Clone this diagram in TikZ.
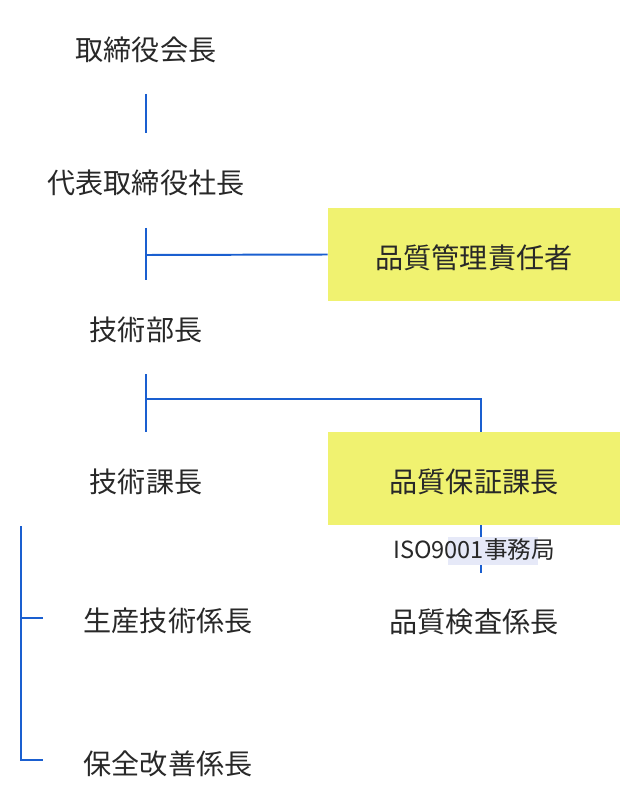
\documentclass[tikz,border=0pt]{standalone}
\usepackage{fontspec}
\setmainfont{Noto Sans CJK JP}
\usetikzlibrary{calc}
\definecolor{LineBlue}{RGB}{26,95,208}
\definecolor{BoxYellow}{RGB}{240,242,112}
\definecolor{MarkLavender}{RGB}{230,233,248}
\definecolor{TextGray}{RGB}{40,40,40}
\newcommand{\boxtext}[1]{\raisebox{-0.8mm}[\height][\depth]{#1}}

\begin{document}
\begin{tikzpicture}[x=0.025cm, y=-0.025cm,
    post/.style={text=TextGray, inner sep=0pt, font=\fontsize{20pt}{24pt}\selectfont},
    qbox/.style={post, fill=BoxYellow, minimum width=7.3cm, minimum height=2.325cm},
    note/.style={text=TextGray, inner sep=0pt, font=\fontsize{16.8pt}{20pt}\selectfont},
    link/.style={LineBlue, line width=1.4pt}]
    \useasboundingbox (0,0) rectangle (620,807);

    % Posts
    \node [post] (chair) at (146,50) {取締役会長};
    \node [post] (pres) at (146,183) {代表取締役社長};
    \node [qbox] (qmr) at (474,254.5) {\boxtext{品質管理責任者}};
    \node [post] (eng) at (146,330) {技術部長};
    \node [post] (sect) at (146,482) {技術課長};
    \node [qbox] (qa) at (474,478.5) {\boxtext{品質保証課長}};
    \node [post] (insp) at (474,622) {品質検査係長};
    \node [post] (prod) at (168,621) {生産技術係長};
    \node [post] (maint) at (168,764) {保全改善係長};

    % Connectors
    \draw [link] ($(chair)+(0,44)$) -- ($(pres)+(0,-50)$);
    \draw [link] ($(pres)+(0,45)$) -- ($(pres)+(0,97)$);
    \draw [link] ($(pres)+(0,72)$) -- (qmr.west);
    \draw [link] ($(eng)+(0,44)$) -- ($(eng)+(0,102)$);
    \draw [link] ($(eng)+(0,69)$) -| ($(qa.north)+(7,0)$);
    \draw [link] ($(sect)+(-125,44)$) |- ($(maint.west)+(-40,-4)$);
    \draw [link] ($(prod.west)+(-63,-3)$) -- ($(prod.west)+(-40,-3)$);
    \draw [link] ($(qa.south)+(7,0)$) -- ($(insp)+(7,-49)$);

    % Office
    \fill [MarkLavender] (448,537) rectangle (538,565);
    \node [note] (iso) at (474,550) {ISO9001事務局};
\end{tikzpicture}
\end{document}
